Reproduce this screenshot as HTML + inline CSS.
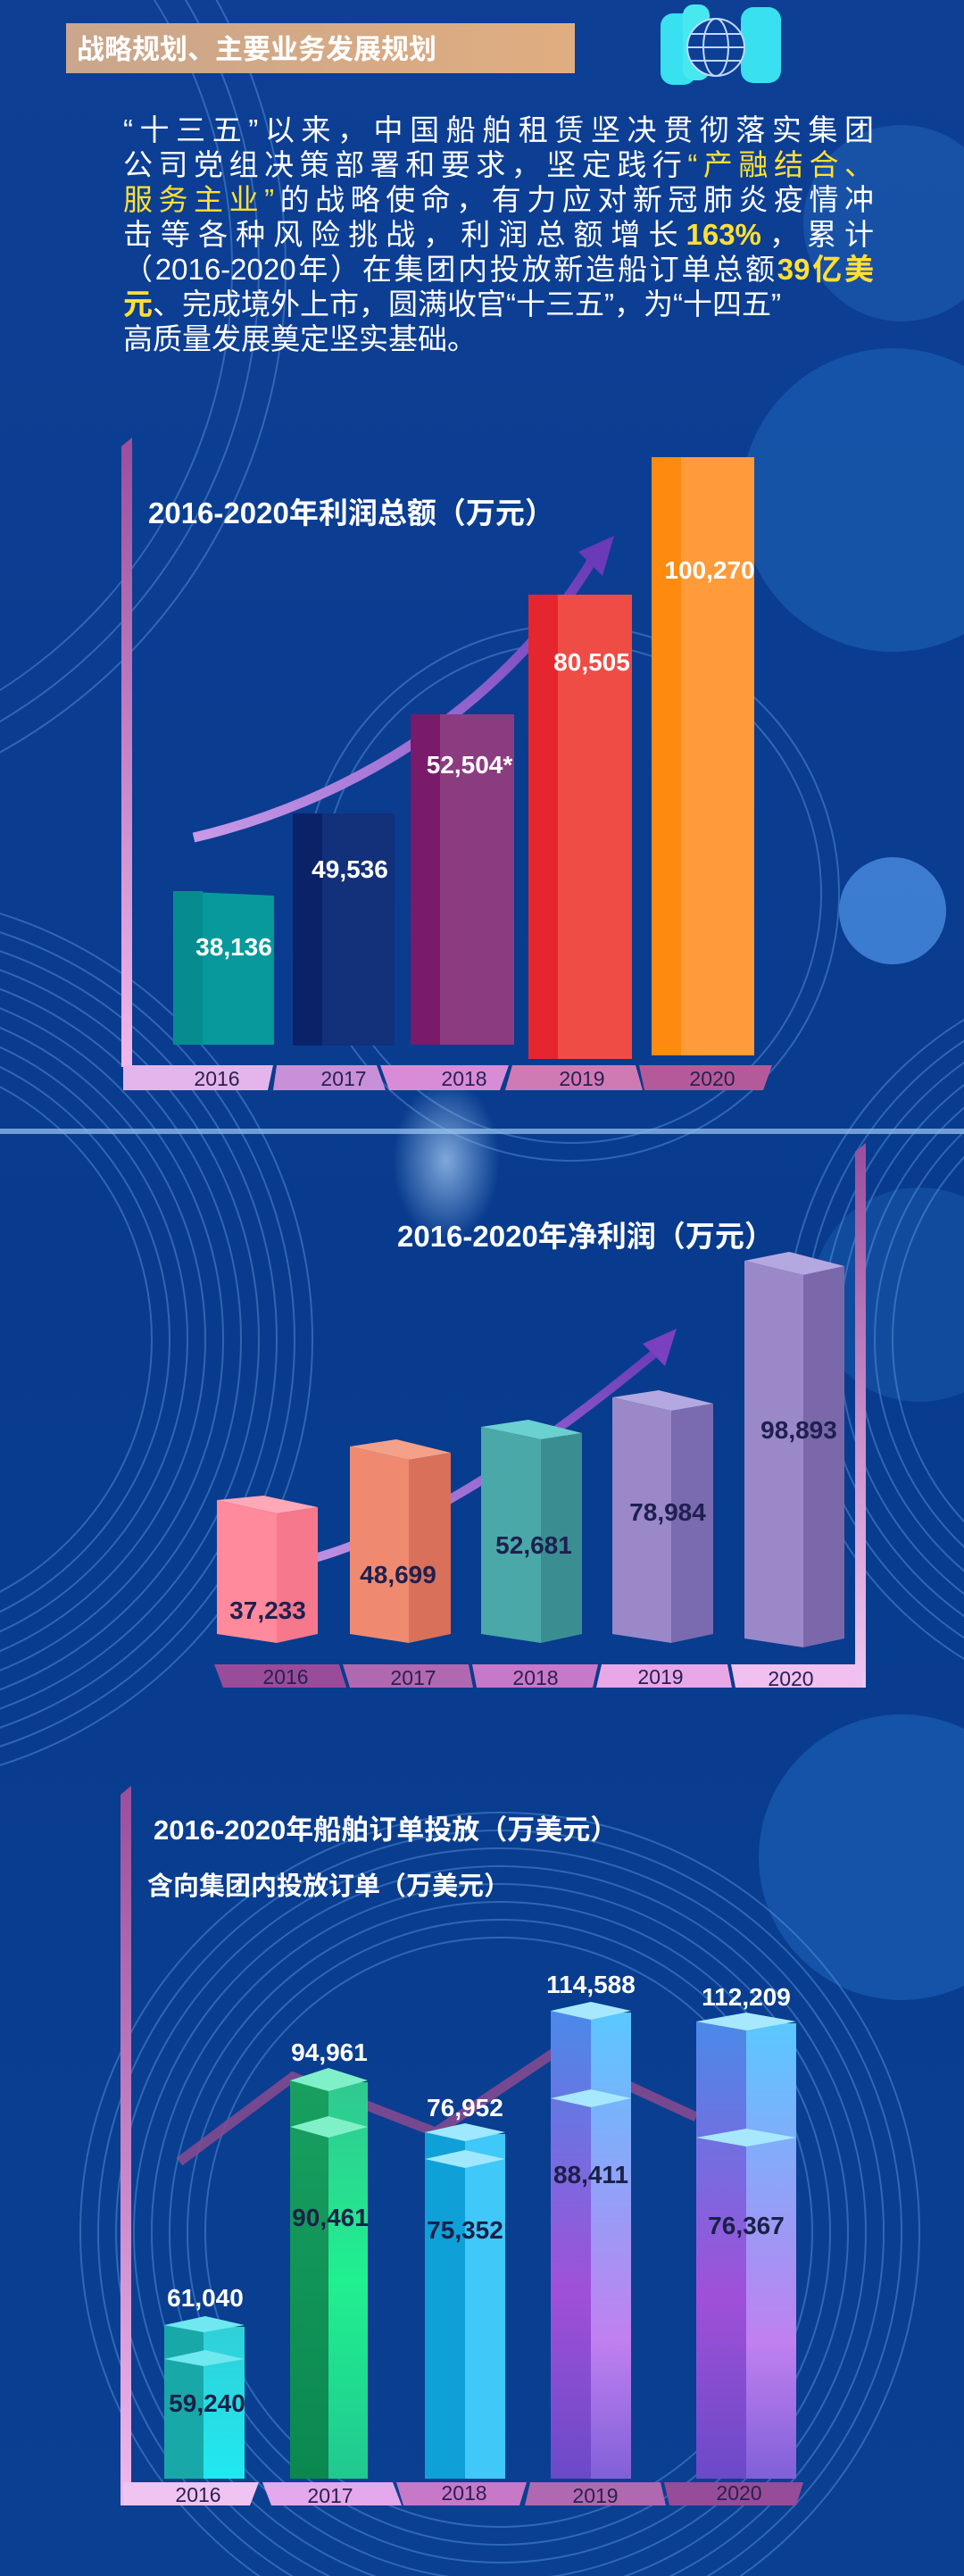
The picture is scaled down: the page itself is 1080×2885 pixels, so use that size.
<!DOCTYPE html>
<html><head><meta charset="utf-8"><style>
html,body{margin:0;padding:0;background:#0a3f8e;}
body{width:1080px;height:2885px;overflow:hidden;position:relative;font-family:"Liberation Sans","Noto Sans CJK SC",sans-serif;}
svg{position:absolute;left:0;top:0}
.p{position:absolute;left:138px;width:841px;color:#fff;font-size:33px;line-height:39px;text-align:justify;text-align-last:justify;white-space:nowrap;font-family:"Liberation Sans","Noto Sans CJK SC",sans-serif;}
.y{color:#ffe033}
</style></head><body>
<svg width="1080" height="2885" viewBox="0 0 1080 2885" font-family="Liberation Sans, Noto Sans CJK SC, sans-serif">
<defs>
<linearGradient id="bg" x1="0" y1="0" x2="0" y2="1">
<stop offset="0" stop-color="#0d3f95"/><stop offset="0.5" stop-color="#083b8d"/><stop offset="1" stop-color="#0a3f92"/></linearGradient>
<radialGradient id="glow" cx="0.5" cy="0.5" r="0.5"><stop offset="0" stop-color="#9cc4f0" stop-opacity="0.8"/><stop offset="1" stop-color="#9cc4f0" stop-opacity="0"/></radialGradient>
<linearGradient id="hdr" x1="0" x2="1"><stop offset="0" stop-color="#c9a68c"/><stop offset="1" stop-color="#e0ad80"/></linearGradient>
<linearGradient id="ax1" x1="0" y1="0" x2="0" y2="1"><stop offset="0" stop-color="#9a4e9c"/><stop offset="1" stop-color="#f0b8ee"/></linearGradient>
<linearGradient id="ax2" x1="0" y1="0" x2="0" y2="1"><stop offset="0" stop-color="#9a4e9c"/><stop offset="1" stop-color="#f0c8f0"/></linearGradient>
<linearGradient id="arr" x1="0" y1="1" x2="1" y2="0"><stop offset="0" stop-color="#c89ae8"/><stop offset="1" stop-color="#6a3ab8"/></linearGradient>
<linearGradient id="g19" x1="0" y1="0" x2="0" y2="1"><stop offset="0" stop-color="#4a8ae8"/><stop offset="0.6" stop-color="#a050d8"/><stop offset="1" stop-color="#6a4ac8"/></linearGradient>
<linearGradient id="g19r" x1="0" y1="0" x2="0" y2="1"><stop offset="0" stop-color="#5ac8ff"/><stop offset="0.7" stop-color="#c080f0"/><stop offset="1" stop-color="#8060d8"/></linearGradient>
<linearGradient id="g17" x1="0" y1="0" x2="0" y2="1"><stop offset="0" stop-color="#18a060"/><stop offset="1" stop-color="#0a8850"/></linearGradient>
<linearGradient id="g17r" x1="0" y1="0" x2="0" y2="1"><stop offset="0" stop-color="#30c890"/><stop offset="0.5" stop-color="#20f090"/><stop offset="1" stop-color="#20c890"/></linearGradient>
<linearGradient id="g16r" x1="0" y1="0" x2="0" y2="1"><stop offset="0" stop-color="#30d0d8"/><stop offset="1" stop-color="#20e8f0"/></linearGradient>
</defs>
<rect width="1080" height="2885" fill="url(#bg)"/>
<circle cx="1000" cy="560" r="170" fill="#1a5cb0" opacity="0.7"/>
<circle cx="1010" cy="2080" r="160" fill="#1a5cb0" opacity="0.7"/>
<circle cx="1030" cy="1450" r="120" fill="#1a5cb0" opacity="0.5"/>
<circle cx="1000" cy="1020" r="60" fill="#4a8ce0" opacity="0.8"/>
<circle cx="1010" cy="250" r="110" fill="#1f5fb3" opacity="0.6"/>
<g fill="none" stroke="#5d9be0" stroke-width="2" opacity="0.45">
<circle cx="-150" cy="1500" r="320"/><circle cx="-150" cy="1500" r="340"/><circle cx="-150" cy="1500" r="360"/><circle cx="-150" cy="1500" r="380"/><circle cx="-150" cy="1500" r="400"/><circle cx="-150" cy="1500" r="420"/><circle cx="-150" cy="1500" r="440"/><circle cx="-150" cy="1500" r="460"/><circle cx="-150" cy="1500" r="480"/><circle cx="-150" cy="1500" r="500"/>
<circle cx="1300" cy="1500" r="300"/><circle cx="1300" cy="1500" r="320"/><circle cx="1300" cy="1500" r="340"/><circle cx="1300" cy="1500" r="360"/><circle cx="1300" cy="1500" r="380"/><circle cx="1300" cy="1500" r="400"/><circle cx="1300" cy="1500" r="420"/>
<circle cx="560" cy="2500" r="330"/><circle cx="560" cy="2500" r="350"/><circle cx="560" cy="2500" r="370"/><circle cx="560" cy="2500" r="390"/><circle cx="560" cy="2500" r="410"/><circle cx="560" cy="2500" r="430"/><circle cx="560" cy="2500" r="450"/><circle cx="560" cy="2500" r="470"/>
<circle cx="-300" cy="300" r="560"/><circle cx="-300" cy="300" r="590"/><circle cx="-300" cy="300" r="620"/>
<circle cx="640" cy="1000" r="280"/><circle cx="640" cy="1000" r="300"/>
</g>
<rect x="0" y="1264" width="1080" height="6" fill="#8cb8ea" opacity="0.8"/>
<ellipse cx="500" cy="1300" rx="60" ry="90" fill="url(#glow)"/>
<rect x="74" y="26" width="570" height="56" fill="url(#hdr)"/>
<text x="86" y="66" font-size="31" font-weight="bold" fill="#fff">战略规划、主要业务发展规划</text>
<g>
<rect x="740" y="15" width="40" height="80" rx="14" fill="#38e0f0"/>
<rect x="765" y="5" width="30" height="85" rx="12" fill="#48e8f0"/>
<rect x="830" y="8" width="45" height="85" rx="14" fill="#38e0f0"/>
<circle cx="802" cy="53" r="32" fill="#0d3f95" stroke="#c0d8ff" stroke-width="2"/>
<ellipse cx="802" cy="53" rx="14" ry="32" fill="none" stroke="#c0d8ff" stroke-width="2"/>
<line x1="770" y1="53" x2="834" y2="53" stroke="#c0d8ff" stroke-width="2"/>
<line x1="774" y1="38" x2="830" y2="38" stroke="#c0d8ff" stroke-width="2"/>
<line x1="774" y1="68" x2="830" y2="68" stroke="#c0d8ff" stroke-width="2"/>
</g>

<!-- CHART 1 -->
<polygon points="136,500 148,490 148,1195 136,1195" fill="url(#ax1)"/>
<text x="166" y="586" font-size="33" font-weight="bold" fill="#fff">2016-2020年利润总额（万元）</text>
<path d="M217,938 C380,900 560,800 665,625" fill="none" stroke="url(#arr)" stroke-width="11"/>
<polygon points="688,600 648,618 675,645" fill="#6a3ab8"/>
<g>
<polygon points="194,998 307,1003 307,1170 194,1170" fill="#07999b"/><rect x="194" y="998" width="33" height="172" fill="#068c8e"/>
<rect x="328" y="911" width="114" height="260" fill="#13307a"/><rect x="328" y="911" width="33" height="260" fill="#0c2268"/>
<rect x="460" y="800" width="116" height="370" fill="#8b3c80"/><rect x="460" y="800" width="33" height="370" fill="#7a1a6a"/>
<rect x="592" y="666" width="116" height="520" fill="#f04c46"/><rect x="592" y="666" width="33" height="520" fill="#e5262e"/>
<rect x="730" y="512" width="115" height="670" fill="#ff9b3a"/><rect x="730" y="512" width="33" height="670" fill="#ff8a10"/>
</g>
<g font-size="28" font-weight="bold" fill="#fff" text-anchor="middle">
<text x="262" y="1070">38,136</text><text x="392" y="983">49,536</text><text x="526" y="866">52,504*</text><text x="663" y="751">80,505</text><text x="795" y="648">100,270</text>
</g>
<g>
<polygon points="138,1193 306,1193 300,1221 138,1221" fill="#e4b4ec"/>
<polygon points="310,1193 422,1193 432,1221 306,1221" fill="#c890d8"/>
<polygon points="426,1193 570,1193 560,1221 436,1221" fill="#d88cd8"/>
<polygon points="574,1193 712,1193 720,1221 566,1221" fill="#d07ab4"/>
<polygon points="716,1193 865,1193 855,1221 722,1221" fill="#b45a9a"/>
</g>
<g font-size="23" fill="#2a2050" text-anchor="middle">
<text x="243" y="1216">2016</text><text x="385" y="1216">2017</text><text x="520" y="1216">2018</text><text x="652" y="1216">2019</text><text x="798" y="1216">2020</text>
</g>

<!-- CHART 2 -->
<polygon points="958,1290 970,1280 970,1890 958,1890" fill="url(#ax2)"/>
<text x="445" y="1396" font-size="33" font-weight="bold" fill="#fff">2016-2020年净利润（万元）</text>
<path d="M285,1760 C420,1740 560,1660 740,1510" fill="none" stroke="url(#arr)" stroke-width="10"/>
<polygon points="758,1488 720,1505 745,1530" fill="#7a40c0"/>
<g>
<polygon points="243,1680 295,1675 356,1688 310,1695" fill="#ffa8b8"/>
<polygon points="243,1680 310,1695 310,1840 243,1830" fill="#ff8a9c"/>
<polygon points="310,1695 356,1688 356,1830 310,1840" fill="#f5788c"/>
<polygon points="392,1620 444,1612 505,1627 458,1635" fill="#f5a088"/>
<polygon points="392,1620 458,1635 458,1840 392,1830" fill="#ef8a70"/>
<polygon points="458,1635 505,1627 505,1830 458,1840" fill="#d8705a"/>
<polygon points="539,1598 592,1590 652,1605 606,1612" fill="#6ad0d0"/>
<polygon points="539,1598 606,1612 606,1840 539,1830" fill="#4aa8a8"/>
<polygon points="606,1612 652,1605 652,1830 606,1840" fill="#3a8e92"/>
<polygon points="686,1565 738,1557 799,1572 752,1580" fill="#b4a8e0"/>
<polygon points="686,1565 752,1580 752,1840 686,1830" fill="#9a88c8"/>
<polygon points="752,1580 799,1572 799,1830 752,1840" fill="#7a6ab0"/>
<polygon points="834,1412 884,1402 946,1418 900,1428" fill="#b4a8e0"/>
<polygon points="834,1412 900,1428 900,1845 834,1835" fill="#9a88c8"/>
<polygon points="900,1428 946,1418 946,1835 900,1845" fill="#7a68aa"/>
</g>
<g font-size="28" font-weight="bold" fill="#1e2050" text-anchor="middle">
<text x="300" y="1813">37,233</text><text x="446" y="1773">48,699</text><text x="598" y="1740">52,681</text><text x="748" y="1703">78,984</text><text x="895" y="1611">98,893</text>
</g>
<g>
<polygon points="240,1864 380,1864 388,1890 250,1890" fill="#9a4c9a"/>
<polygon points="384,1864 525,1864 530,1890 392,1890" fill="#b068b0"/>
<polygon points="529,1864 670,1864 664,1890 534,1890" fill="#c878c8"/>
<polygon points="674,1864 815,1864 820,1890 668,1890" fill="#e8a8e8"/>
<polygon points="819,1864 966,1864 966,1890 824,1890" fill="#f0c0f0"/>
</g>
<g font-size="23" fill="#2a2050" text-anchor="middle">
<text x="320" y="1886">2016</text><text x="463" y="1887">2017</text><text x="600" y="1887">2018</text><text x="740" y="1886">2019</text><text x="886" y="1888">2020</text>
</g>

<!-- CHART 3 -->
<polygon points="135,2010 147,2000 147,2806 135,2806" fill="url(#ax1)"/>
<text x="172" y="2060" font-size="31" font-weight="bold" fill="#fff">2016-2020年船舶订单投放（万美元）</text>
<text x="165" y="2122" font-size="29" font-weight="bold" fill="#fff">含向集团内投放订单（万美元）</text>
<polyline points="201,2421 328,2326 488,2388 622,2298 780,2371" fill="none" stroke="#8a4a90" stroke-width="11" opacity="0.85"/>
<g>
<!-- 2016 -->
<rect x="184" y="2604" width="44" height="172" fill="#18a8a8"/><rect x="228" y="2606" width="46" height="170" fill="url(#g16r)"/>
<polygon points="184,2604 230,2594 274,2604 228,2612" fill="#70e8f0"/>
<polygon points="184,2642 230,2632 274,2642 228,2650" fill="#70e8f0"/>
<!-- 2017 -->
<rect x="325" y="2330" width="43" height="446" fill="url(#g17)"/><rect x="368" y="2332" width="44" height="444" fill="url(#g17r)"/>
<polygon points="325,2330 368,2316 412,2330 368,2342" fill="#80f0c8"/>
<polygon points="325,2382 368,2370 412,2382 368,2394" fill="#80f0c8"/>
<!-- 2018 -->
<rect x="476" y="2388" width="45" height="388" fill="#10a0d8"/><rect x="521" y="2390" width="45" height="386" fill="#40c8f8"/>
<polygon points="476,2388 521,2378 566,2388 521,2398" fill="#a0e8ff"/>
<polygon points="476,2418 521,2408 566,2418 521,2428" fill="#a0e8ff"/>
<!-- 2019 -->
<rect x="617" y="2252" width="45" height="524" fill="url(#g19)"/><rect x="662" y="2254" width="45" height="522" fill="url(#g19r)"/>
<polygon points="617,2252 662,2242 707,2252 662,2262" fill="#a8e8ff"/>
<polygon points="617,2350 662,2340 707,2350 662,2360" fill="#a8e8ff"/>
<!-- 2020 -->
<rect x="780" y="2264" width="56" height="512" fill="url(#g19)"/><rect x="836" y="2266" width="56" height="510" fill="url(#g19r)"/>
<polygon points="780,2264 836,2254 892,2264 836,2274" fill="#a8e8ff"/>
<polygon points="780,2394 836,2384 892,2394 836,2404" fill="#a8e8ff"/>
</g>
<g font-size="28" font-weight="bold" fill="#fff" text-anchor="middle">
<text x="230" y="2583">61,040</text><text x="369" y="2308">94,961</text><text x="521" y="2370">76,952</text><text x="662" y="2232">114,588</text><text x="836" y="2246">112,209</text>
</g>
<g font-size="28" font-weight="bold" fill="#1a2048" text-anchor="middle">
<text x="232" y="2701">59,240</text><text x="370" y="2493">90,461</text><text x="521" y="2507">75,352</text><text x="662" y="2445">88,411</text><text x="836" y="2502">76,367</text>
</g>
<g>
<polygon points="138,2780 290,2780 280,2806 138,2806" fill="#f0c4f0"/>
<polygon points="294,2780 440,2780 450,2806 304,2806" fill="#e4a8ec"/>
<polygon points="444,2780 590,2780 582,2806 452,2806" fill="#c878c8"/>
<polygon points="594,2780 740,2780 746,2806 588,2806" fill="#b068b0"/>
<polygon points="744,2780 900,2780 892,2806 750,2806" fill="#964c98"/>
</g>
<g font-size="23" fill="#2a2050" text-anchor="middle">
<text x="222" y="2802">2016</text><text x="370" y="2803">2017</text><text x="520" y="2800">2018</text><text x="667" y="2803">2019</text><text x="828" y="2800">2020</text>
</g>
</svg>
<div class="p" style="top:126px">“十三五”以来，中国船舶租赁坚决贯彻落实集团</div>
<div class="p" style="top:165px">公司党组决策部署和要求，坚定践行<span class="y">“产融结合、</span></div>
<div class="p" style="top:204px"><span class="y">服务主业”</span>的战略使命，有力应对新冠肺炎疫情冲</div>
<div class="p" style="top:243px">击等各种风险挑战，利润总额增长<span class="y" style="font-weight:bold">163%</span>，累计</div>
<div class="p" style="top:282px">（2016-2020年）在集团内投放新造船订单总额<span class="y" style="font-weight:bold">39亿美</span></div>
<div class="p" style="top:321px;text-align-last:left"><span class="y" style="font-weight:bold">元</span>、完成境外上市，圆满收官“十三五”，为“十四五”</div>
<div class="p" style="top:360px;text-align-last:left">高质量发展奠定坚实基础。</div>
</body></html>
